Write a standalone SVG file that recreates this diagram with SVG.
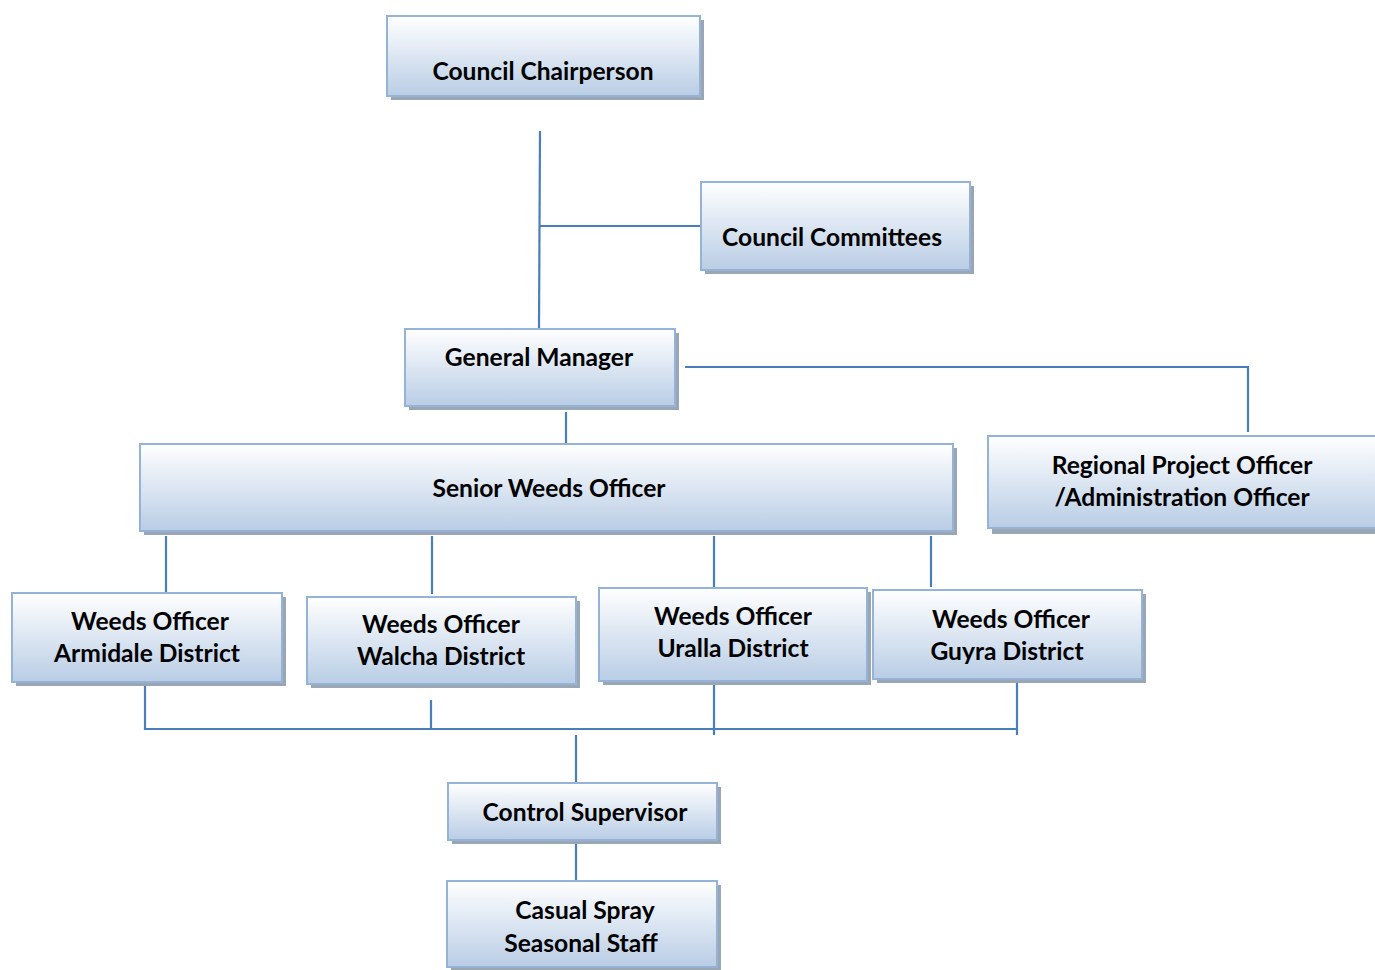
<svg xmlns="http://www.w3.org/2000/svg" width="1375" height="970" viewBox="0 0 1375 970">
<defs>
<linearGradient id="g" x1="0" y1="0" x2="0" y2="1">
<stop offset="0" stop-color="#ffffff"/>
<stop offset="1" stop-color="#b9cde5"/>
</linearGradient>
</defs>
<style>
.sh{fill:#9ba6b5}
.bx{fill:url(#g);stroke:#95b3d7;stroke-width:2}
.t{font-family:Lato,"Open Sans",sans-serif;font-weight:bold;font-size:24.6px;fill:#000;text-anchor:middle}
.c{stroke:#4a7ebb;stroke-width:2.2;fill:none}
</style>
<g id="connectors">
<path class="c" d="M540 131 L539 328"/>
<path class="c" d="M540 226 H701"/>
<path class="c" d="M685 367 H1248 V432"/>
<path class="c" d="M566 412 V444"/>
<path class="c" d="M166 536 V593"/>
<path class="c" d="M432 536 V594"/>
<path class="c" d="M714 536 V587"/>
<path class="c" d="M931 536 V587"/>
<path class="c" d="M145 682 V729 H1017"/>
<path class="c" d="M431 700 V729"/>
<path class="c" d="M714 684 V735"/>
<path class="c" d="M1017 682 V735"/>
<path class="c" d="M576 735 V782"/>
<path class="c" d="M576 840 V881"/>
</g>
<g id="chair">
<rect class="sh" x="391" y="20" width="313" height="80"/>
<rect class="bx" x="387" y="16" width="313" height="80"/>
<text class="t" x="543" y="80">Council Chairperson</text>
</g>
<g id="committees">
<rect class="sh" x="705" y="186" width="269" height="88"/>
<rect class="bx" x="701" y="182" width="269" height="88"/>
<text class="t" x="832" y="246">Council Committees</text>
</g>
<g id="gm">
<rect class="sh" x="409" y="333" width="270" height="77"/>
<rect class="bx" x="405" y="329" width="270" height="77"/>
<text class="t" x="539" y="366">General Manager</text>
</g>
<g id="regional">
<rect class="sh" x="992" y="440" width="390" height="94"/>
<rect class="bx" x="988" y="436" width="390" height="92"/>
<text class="t" x="1182" y="474">Regional Project Officer</text>
<text class="t" x="1182" y="506">/Administration Officer</text>
</g>
<g id="senior">
<rect class="sh" x="144" y="448" width="813" height="87"/>
<rect class="bx" x="140" y="444" width="813" height="87"/>
<text class="t" x="549" y="497">Senior Weeds Officer</text>
</g>
<g id="armidale">
<rect class="sh" x="16" y="597" width="270" height="89"/>
<rect class="bx" x="12" y="593" width="270" height="89"/>
<text class="t" x="150" y="630">Weeds Officer</text>
<text class="t" x="147" y="662">Armidale District</text>
</g>
<g id="walcha">
<rect class="sh" x="311" y="601" width="269" height="87"/>
<rect class="bx" x="307" y="597" width="269" height="87"/>
<text class="t" x="441" y="633">Weeds Officer</text>
<text class="t" x="441" y="665">Walcha District</text>
</g>
<g id="uralla">
<rect class="sh" x="603" y="592" width="268" height="93"/>
<rect class="bx" x="599" y="588" width="268" height="93"/>
<text class="t" x="733" y="625">Weeds Officer</text>
<text class="t" x="733" y="657">Uralla District</text>
</g>
<g id="guyra">
<rect class="sh" x="877" y="594" width="269" height="89"/>
<rect class="bx" x="873" y="590" width="269" height="89"/>
<text class="t" x="1011" y="628">Weeds Officer</text>
<text class="t" x="1007" y="660">Guyra District</text>
</g>
<g id="control">
<rect class="sh" x="452" y="787" width="269" height="57"/>
<rect class="bx" x="448" y="783" width="269" height="57"/>
<text class="t" x="585" y="821">Control Supervisor</text>
</g>
<g id="casual">
<rect class="sh" x="451" y="885" width="270" height="86"/>
<rect class="bx" x="447" y="881" width="270" height="86"/>
<text class="t" x="585" y="919">Casual Spray</text>
<text class="t" x="581" y="952">Seasonal Staff</text>
</g>
</svg>
